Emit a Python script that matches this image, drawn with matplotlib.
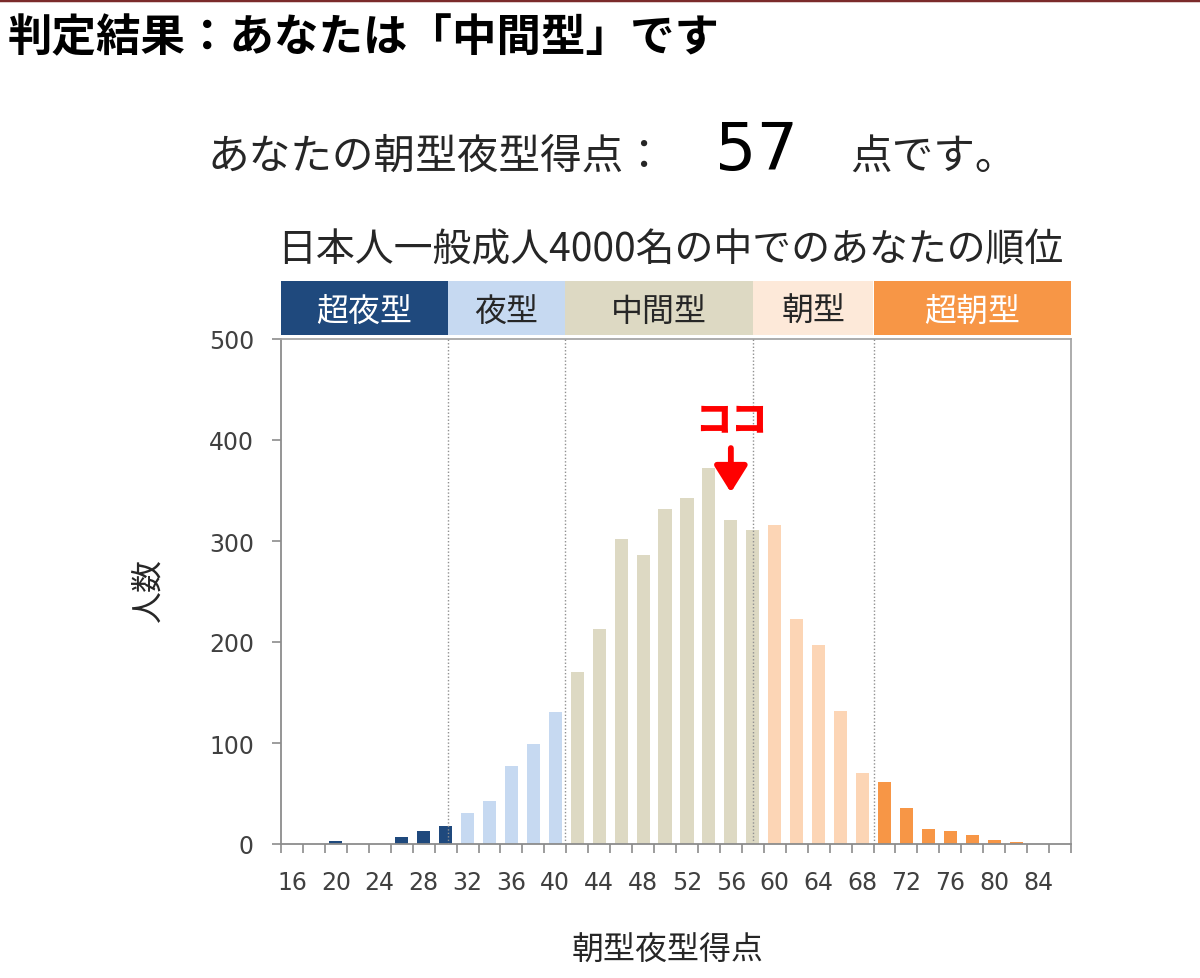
import matplotlib
matplotlib.use("Agg")
import matplotlib.pyplot as plt
from matplotlib.lines import Line2D
import numpy as np

plt.rcParams['font.family'] = ['Noto Sans CJK JP', 'DejaVu Sans']

# histogram of MEQ score (bins of 2 points, 16..86)
scores = list(range(16, 88, 2))
counts = [0, 0, 3, 0, 0, 7, 13, 18, 31, 43, 77, 99, 131,
          170, 213, 302, 286, 332, 343, 372, 321, 311,
          316, 223, 197, 132, 70,
          61, 36, 15, 13, 9, 4, 2, 0, 0]

# chronotype zones
zone_names = ['超夜型', '夜型', '中間型', '朝型', '超朝型']
zone_upper = [30, 40, 58, 68, 86]          # last score bin of each zone
zone_edges = [15, 30.2, 40.9, 58.0, 69.0, 87]
bar_colors = ['#1F497D', '#C6D9F1', '#DDD9C3', '#FCD5B5', '#F79646']
band_colors = ['#1F497D', '#C6D9F1', '#DDD9C3', '#FDE9D9', '#F79646']
band_text_colors = ['white', '#262626', '#262626', '#262626', 'white']

user_score = 57
user_type = '中間型'

W, H = 1200, 979
dpi = 100
fig = plt.figure(figsize=(W / dpi, H / dpi), dpi=dpi)

def fx(px): return px / W
def fy(py): return 1 - py / H

# main axes
ax_l, ax_r, ax_t, ax_b = 281, 1071, 340, 845
ax = fig.add_axes([fx(ax_l), fy(ax_b), (ax_r - ax_l) / W, (ax_b - ax_t) / H])

colors = []
for s in scores:
    for up, c in zip(zone_upper, bar_colors):
        if s <= up:
            colors.append(c)
            break
ax.bar(scores, counts, width=1.19, color=colors, zorder=2)

for e in zone_edges[1:-1]:
    ax.axvline(e, color='#909090', lw=1, ls=(0, (1, 1.5)), zorder=3)

ax.set_xlim(15, 87)
ax.set_ylim(0, 500)
ax.set_yticks(range(0, 501, 100))
ax.set_xticks(range(16, 85, 4))
ax.set_xticks(np.arange(15, 88, 2), minor=True)
ax.tick_params(axis='x', which='major', length=0, pad=19)
ax.tick_params(axis='x', which='minor', length=6.5, width=1.2, color='#8c8c8c', direction='out')
ax.tick_params(axis='y', length=6.5, width=1.2, color='#8c8c8c', pad=13)
for lab in ax.get_xticklabels() + ax.get_yticklabels():
    lab.set_fontfamily('DejaVu Sans')
    lab.set_fontsize(17)
    lab.set_color('#404040')
for side in ['left', 'bottom']:
    ax.spines[side].set_color('#8c8c8c')
    ax.spines[side].set_linewidth(1.3)
for side in ['top', 'right']:
    ax.spines[side].set_color('#a6a6a6')
    ax.spines[side].set_linewidth(1.3)

ax.set_ylabel('人数', fontsize=23, color='#262626')
ax.yaxis.set_label_coords(-0.147, 0.505)
ax.set_xlabel('朝型夜型得点', fontsize=23, color='#262626')
ax.xaxis.set_label_coords(0.489, -0.178)

# marker for the user's bin
user_bin = user_score - user_score % 2
ax.annotate('', xy=(user_bin, 348), xytext=(user_bin, 392),
            arrowprops=dict(arrowstyle='-|>,head_width=0.5,head_length=0.8',
                            mutation_scale=20, color='#FF0000', lw=4.2,
                            shrinkA=0, shrinkB=0), zorder=5)
ax.text(user_bin, 421, 'ココ', color='#FF0000', fontsize=26, fontweight='heavy',
        ha='center', va='center', zorder=5)

# zone band above the plot
band = fig.add_axes([fx(ax_l), fy(336), (ax_r - ax_l) / W, 54 / H])
band.set_xlim(15, 87)
band.set_ylim(0, 1)
band.axis('off')
for i, name in enumerate(zone_names):
    x0, x1 = zone_edges[i], zone_edges[i + 1]
    band.axvspan(x0, x1, color=band_colors[i], lw=0)
    band.text((x0 + x1) / 2, 0.44, name, ha='center', va='center',
              fontsize=23, color=band_text_colors[i])

# texts
fig.add_artist(Line2D([0, 1], [fy(1), fy(1)], color='#7B2A2A', lw=2.5))
fig.text(fx(8), fy(38), f'判定結果：あなたは「{user_type}」です', fontsize=32,
         fontweight='bold', ha='left', va='center', color='black')
fig.text(fx(208), fy(157), 'あなたの朝型夜型得点：', fontsize=30,
         ha='left', va='center', color='#262626')
fig.text(fx(757), fy(152), str(user_score), fontsize=47, family='DejaVu Sans',
         ha='center', va='center', color='black')
fig.text(fx(850), fy(157), '点です。', fontsize=30,
         ha='left', va='center', color='#262626')
fig.text(fx(670), fy(250), '日本人一般成人4000名の中でのあなたの順位', fontsize=28,
         ha='center', va='center', color='#262626')

fig.savefig('out.png', dpi=dpi)
